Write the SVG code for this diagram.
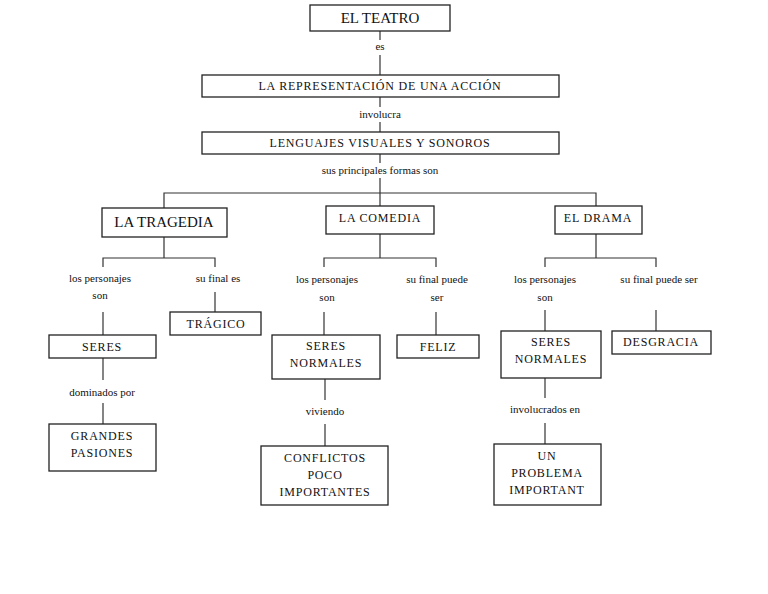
<svg xmlns="http://www.w3.org/2000/svg" width="768" height="594" viewBox="0 0 768 594">
<style>
rect{fill:#fff;stroke:#222;stroke-width:1.3}
line,path{stroke:#333;stroke-width:1.2;fill:none}
text{font-family:"Liberation Serif","DejaVu Serif",serif;fill:#111;text-anchor:middle}
.b{font-size:12px;letter-spacing:0.8px}
.B{font-size:15px}
.l{font-size:11px}
</style>
<rect width="768" height="594" style="stroke:none"/>
<g id="connectors">
<line x1="380" y1="31" x2="380" y2="40"/><line x1="380" y1="55" x2="380" y2="75"/>
<line x1="380" y1="97" x2="380" y2="107"/><line x1="380" y1="122" x2="380" y2="132"/>
<line x1="380" y1="154" x2="380" y2="163"/><line x1="380" y1="178" x2="380" y2="206"/>
<path d="M164 208V193H596V206"/>
<path d="M164 237V258M103 267V258H215V267"/>
<path d="M380 234V258M324 267V258H436V267"/>
<path d="M596 234V258M545 267V258H656V267"/>
<line x1="103" y1="312" x2="103" y2="335"/><line x1="215" y1="292" x2="215" y2="312"/>
<line x1="103" y1="358" x2="103" y2="380"/><line x1="103" y1="403" x2="103" y2="424"/>
<line x1="324" y1="312" x2="324" y2="335"/><line x1="436" y1="312" x2="436" y2="335"/>
<line x1="325" y1="379" x2="325" y2="400"/><line x1="325" y1="424" x2="325" y2="446"/>
<line x1="545" y1="310" x2="545" y2="331"/><line x1="656" y1="310" x2="656" y2="331"/>
<line x1="545" y1="378" x2="545" y2="398"/><line x1="545" y1="423" x2="545" y2="444"/>
</g>
<g id="labels">
<text class="l" x="380" y="50">es</text>
<text class="l" x="380" y="118">involucra</text>
<text class="l" x="380" y="174">sus principales formas son</text>
<text class="l" x="100" y="282">los personajes</text><text class="l" x="100" y="299">son</text>
<text class="l" x="218" y="282">su final es</text>
<text class="l" x="102" y="396">dominados por</text>
<text class="l" x="327" y="283">los personajes</text><text class="l" x="327" y="301">son</text>
<text class="l" x="437" y="283">su final puede</text><text class="l" x="437" y="301">ser</text>
<text class="l" x="325" y="415">viviendo</text>
<text class="l" x="545" y="283">los personajes</text><text class="l" x="545" y="301">son</text>
<text class="l" x="659" y="283">su final puede ser</text>
<text class="l" x="545" y="413">involucrados en</text>
</g>
<g id="teatro"><rect x="310" y="5" width="140" height="26"/><text class="B" x="380" y="23">EL TEATRO</text></g>
<g id="representacion"><rect x="202" y="75" width="357" height="22"/><text class="b" x="380" y="90">LA REPRESENTACIÓN DE UNA ACCIÓN</text></g>
<g id="lenguajes"><rect x="202" y="132" width="357" height="22"/><text class="b" x="380" y="147">LENGUAJES VISUALES Y SONOROS</text></g>
<g id="tragedia"><rect x="102" y="208" width="125" height="29"/><text class="B" x="164" y="227">LA TRAGEDIA</text></g>
<g id="comedia"><rect x="326" y="206" width="108" height="28"/><text class="b" x="380" y="222">LA COMEDIA</text></g>
<g id="drama"><rect x="555" y="206" width="87" height="28"/><text class="b" x="598" y="222">EL DRAMA</text></g>
<g id="seres"><rect x="49" y="335" width="107" height="23"/><text class="b" x="102" y="351">SERES</text></g>
<g id="tragico"><rect x="170" y="312" width="91" height="23"/><text class="b" x="216" y="328">TRÁGICO</text></g>
<g id="grandes"><rect x="49" y="424" width="107" height="47"/><text class="b" x="102" y="440">GRANDES</text><text class="b" x="102" y="457">PASIONES</text></g>
<g id="seres-normales-c"><rect x="272" y="335" width="108" height="44"/><text class="b" x="326" y="350">SERES</text><text class="b" x="326" y="367">NORMALES</text></g>
<g id="feliz"><rect x="397" y="335" width="82" height="23"/><text class="b" x="438" y="351">FELIZ</text></g>
<g id="conflictos"><rect x="261" y="446" width="127" height="59"/><text class="b" x="325" y="462">CONFLICTOS</text><text class="b" x="325" y="479">POCO</text><text class="b" x="325" y="496">IMPORTANTES</text></g>
<g id="seres-normales-d"><rect x="501" y="331" width="100" height="47"/><text class="b" x="551" y="346">SERES</text><text class="b" x="551" y="363">NORMALES</text></g>
<g id="desgracia"><rect x="612" y="331" width="99" height="23"/><text class="b" x="661" y="346">DESGRACIA</text></g>
<g id="problema"><rect x="494" y="444" width="107" height="61"/><text class="b" x="547" y="460">UN</text><text class="b" x="547" y="477">PROBLEMA</text><text class="b" x="547" y="494">IMPORTANT</text></g>
</svg>
